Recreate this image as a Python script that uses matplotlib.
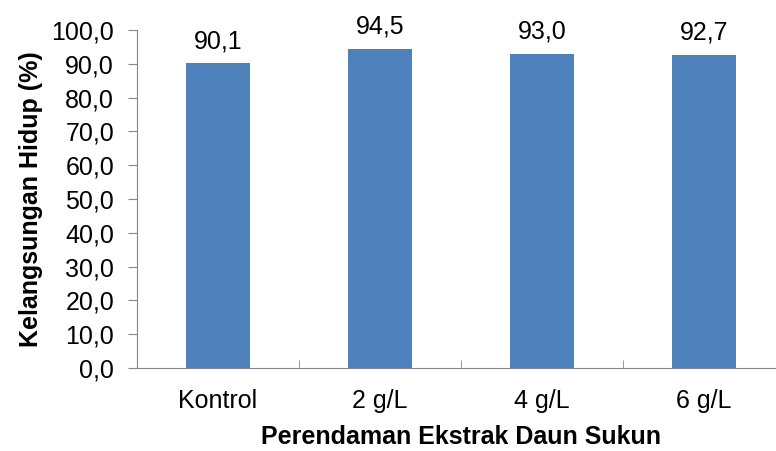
import matplotlib
matplotlib.use("Agg")
import matplotlib.pyplot as plt
import numpy as np

categories = ["Kontrol", "2 g/L", "4 g/L", "6 g/L"]
values = [90.1, 94.5, 93.0, 92.7]
yticks = [0, 10, 20, 30, 40, 50, 60, 70, 80, 90, 100]

plt.rcParams['font.family'] = ['Liberation Sans', 'DejaVu Sans']
FS = 18

fig = plt.figure(figsize=(7.76, 4.51), dpi=100)
ax = fig.add_axes([137/776, 83/451, 648/776, 338/451])

x = np.arange(len(categories))
ax.bar(x, values, width=0.4, color="#4F81BD")
for xi, v in zip(x, values):
    ax.annotate(f"{v:.1f}".replace(".", ","), (xi, v), xytext=(0, 7),
                textcoords="offset points", ha="center", va="bottom", fontsize=FS)

ax.set_xlim(-0.5, len(categories) - 0.5)
ax.set_ylim(0, 100)
ax.set_yticks(yticks)
ax.set_yticklabels([f"{t:.1f}".replace(".", ",") for t in yticks], fontsize=FS)
ax.set_xticks(x)
ax.set_xticklabels(categories, fontsize=FS)
ax.tick_params(axis="x", length=0, pad=15)
ax.set_xticks(np.arange(-0.5, len(categories), 1.0), minor=True)
ax.tick_params(axis="x", which="minor", length=6, color="#868686", direction="in")
ax.tick_params(axis="y", length=6.5, color="#868686", pad=10)

for s in ["top", "right"]:
    ax.spines[s].set_visible(False)
for s in ["left", "bottom"]:
    ax.spines[s].set_color("#868686")

ax.set_xlabel("Perendaman Ekstrak Daun Sukun", fontsize=FS, fontweight="bold", labelpad=9)
ax.set_ylabel("Kelangsungan Hidup (%)", fontsize=FS, fontweight="bold", labelpad=6)

fig.savefig("out.png", dpi=100)
